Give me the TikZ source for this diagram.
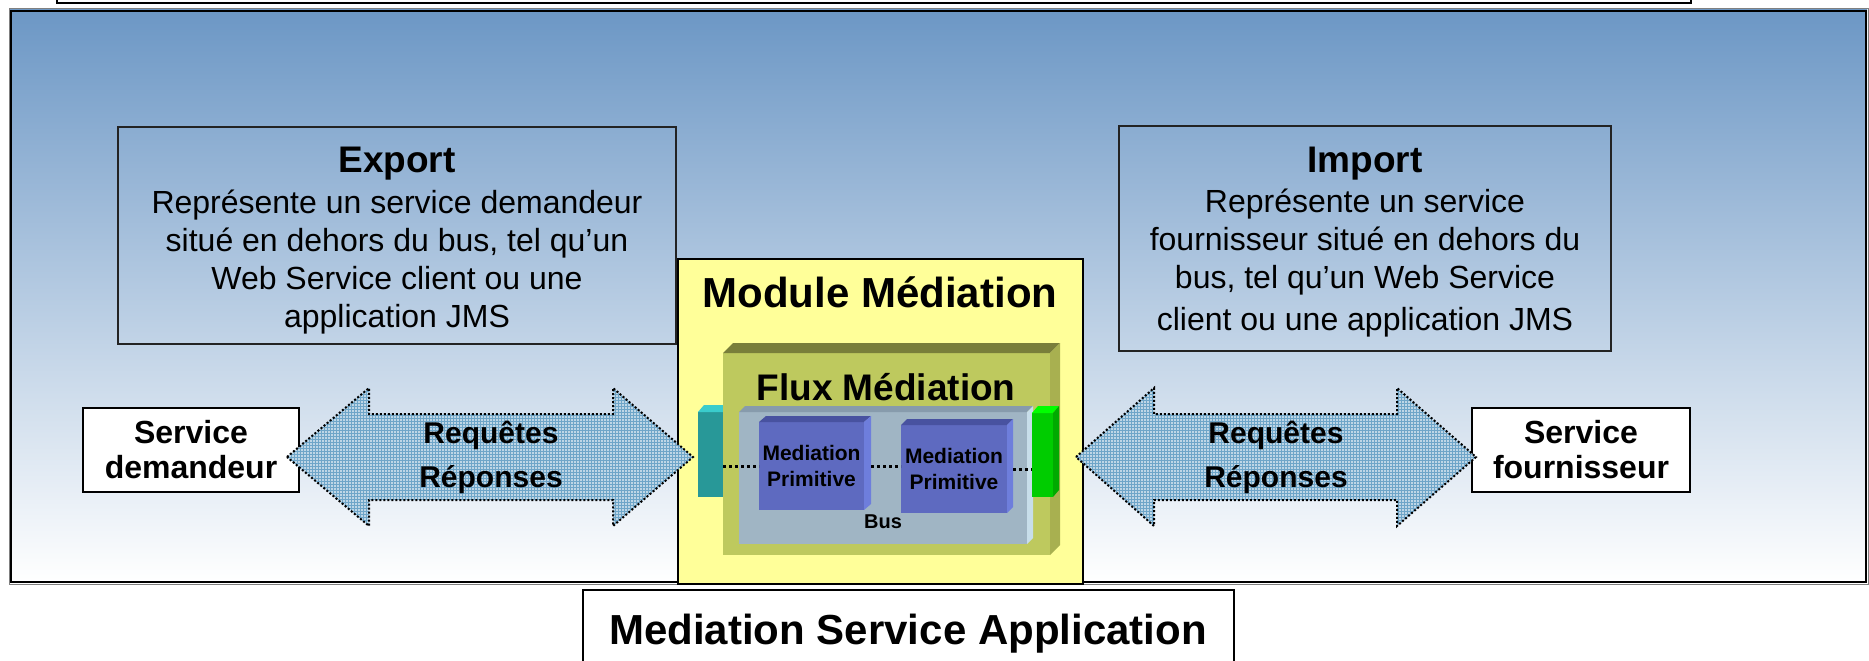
\documentclass[tikz,border=0pt]{standalone}
\usepackage{fontspec}
\setmainfont{Liberation Sans}
\usetikzlibrary{patterns}
\definecolor{panTop}{RGB}{108,151,197}
\definecolor{modYel}{RGB}{255,255,153}
\definecolor{fluxFront}{RGB}{190,201,94}
\definecolor{fluxTop}{RGB}{121,126,58}
\definecolor{fluxSide}{RGB}{168,176,80}
\definecolor{busFront}{RGB}{160,181,196}
\definecolor{busTop}{RGB}{135,155,172}
\definecolor{busSide}{RGB}{200,222,234}
\definecolor{mpFront}{RGB}{94,106,192}
\definecolor{mpTop}{RGB}{72,82,160}
\definecolor{mpSide}{RGB}{110,126,220}
\definecolor{tealFront}{RGB}{40,152,152}
\definecolor{tealTop}{RGB}{58,204,204}
\definecolor{grnFront}{RGB}{0,204,0}
\definecolor{grnTop}{RGB}{0,255,0}
\definecolor{grnSide}{RGB}{0,170,0}
\definecolor{arrFill}{RGB}{190,214,230}
\definecolor{arrGrid}{RGB}{110,165,200}
\definecolor{boxLine}{RGB}{35,35,35}
\begin{document}
\begin{tikzpicture}[x=1pt,y=-1pt,
  infobox/.style={draw=boxLine, line width=2pt},
  infotitle/.style={anchor=base, font=\fontsize{37}{40}\selectfont\bfseries},
  infotext/.style={anchor=base, font=\fontsize{32}{36}\selectfont},
  svcbox/.style={draw=black, fill=white, line width=2.5pt, minimum width=216pt, minimum height=84pt, inner sep=0pt, align=center, font=\fontsize{32}{35}\selectfont\bfseries},
  bigarrow/.style={preaction={fill=arrFill}, preaction={pattern=grid, pattern color=arrGrid}, draw=black, line width=2pt, dash pattern=on 2pt off 2pt},
  arrowtext/.style={anchor=base, font=\fontsize{30}{34}\selectfont\bfseries},
  face/.style={inner sep=0pt, outer sep=0pt},
  dotline/.style={draw=black, line width=3pt, dash pattern=on 3pt off 3pt},
  bigtitle/.style={anchor=base, font=\fontsize{42}{46}\selectfont\bfseries},
  mptext/.style={align=center, font=\fontsize{21}{26}\selectfont\bfseries}
]
\useasboundingbox (0,0) rectangle (1869,661);
\clip (0,0) rectangle (1869,661);

% top box (cut off)
\draw[fill=white, line width=2pt] (57,-10) rectangle (1691,3);

% main panel
\shade[top color=panTop, bottom color=white] (10,10) rectangle (1867,583);
\draw[gray, line width=1pt] (9,9) rectangle (1868,584);
\draw[black, line width=2.5pt] (11,11) rectangle (1866,582);

% Export / Import boxes
\node[infobox, minimum width=558pt, minimum height=217pt, inner sep=0pt] (export) at (397,235.5) {};
\node[infotitle] (e0) at (397,172) {Export};
\node[infotext] (e1) at (397,213) {Représente un service demandeur};
\node[infotext] (e2) at (397,251) {situé en dehors du bus, tel qu’un};
\node[infotext] (e3) at (397,289) {Web Service client ou une};
\node[infotext] (e4) at (397,327) {application JMS};

\node[infobox, minimum width=492pt, minimum height=225pt, inner sep=0pt] (import) at (1365,238.5) {};
\node[infotitle] (i0) at (1365,172) {Import};
\node[infotext] (i1) at (1365,212) {Représente un service};
\node[infotext] (i2) at (1365,250) {fournisseur situé en dehors du};
\node[infotext] (i3) at (1365,288) {bus, tel qu’un Web Service};
\node[infotext] (i4) at (1365,330) {client ou une application JMS};

% Module Mediation
\node[draw=black, fill=modYel, line width=2pt, minimum width=405pt, minimum height=325pt, inner sep=0pt] (module) at (880.5,421.5) {};
\node[bigtitle] (modt) at (880,307) {Module Médiation};

% teal block (behind flux)
\node[face, fill=tealFront, minimum width=25pt, minimum height=85pt] (teal) at (710.5,454.5) {};
\fill[tealTop] (teal.north west) -- ++(6,-7) -- ++(25,0) -- (teal.north east) -- cycle;

% Flux box
\node[face, fill=fluxFront, minimum width=327pt, minimum height=202pt] (flux) at (886.5,454) {};
\fill[fluxTop] (flux.north west) -- ++(10,-10) -- ++(327,0) -- (flux.north east) -- cycle;
\fill[fluxSide] (flux.north east) -- ++(10,-10) -- ++(0,202) -- (flux.south east) -- cycle;
\node[anchor=base, font=\fontsize{37}{40}\selectfont\bfseries] (fluxt) at (886,400) {Flux Médiation};

% Bus
\node[face, fill=busFront, minimum width=288pt, minimum height=132pt] (bus) at (883,478) {};
\fill[busTop] (bus.north west) -- ++(6,-6) -- ++(288,0) -- (bus.north east) -- cycle;
\fill[busSide] (bus.north east) -- ++(6,-6) -- ++(0,132) -- (bus.south east) -- cycle;
\node[anchor=base, font=\fontsize{20}{24}\selectfont\bfseries] (bust) at (883,528) {Bus};

% Mediation primitives
\node[face, fill=mpFront, minimum width=105pt, minimum height=88pt, mptext] (mp1) at (811.5,466) {Mediation\\Primitive};
\fill[mpTop] (mp1.north west) -- ++(7,-6) -- ++(105,0) -- (mp1.north east) -- cycle;
\fill[mpSide] (mp1.north east) -- ++(7,-6) -- ++(0,88) -- (mp1.south east) -- cycle;

\node[face, fill=mpFront, minimum width=106pt, minimum height=88pt, mptext] (mp2) at (954,469) {Mediation\\Primitive};
\fill[mpTop] (mp2.north west) -- ++(6,-6) -- ++(106,0) -- (mp2.north east) -- cycle;
\fill[mpSide] (mp2.north east) -- ++(6,-6) -- ++(0,88) -- (mp2.south east) -- cycle;

% green block
\node[face, fill=grnFront, minimum width=21pt, minimum height=84pt] (grn) at (1042.5,455) {};
\fill[grnTop] (grn.north west) -- ++(6,-7) -- ++(21,0) -- (grn.north east) -- cycle;
\fill[grnSide] (grn.north east) -- ++(6,-7) -- ++(0,84) -- (grn.south east) -- cycle;

% dotted links
\draw[dotline] (teal.east |- mp1.west) -- (mp1.west);
\draw[dotline] ([xshift=7pt]mp1.east) -- (mp1.east -| mp2.west);
\draw[dotline] ([xshift=6pt]mp2.east) -- (mp2.east -| grn.west);

% service boxes
\node[svcbox] (dem) at (191,450) {Service\\demandeur};
\node[svcbox, minimum width=218pt] (four) at (1581,450) {Service\\fournisseur};

% big arrows
\path[bigarrow] (287,457) -- (369,388) -- (369,414) -- (613,414) -- (613,388) -- (693,457) -- (613,526) -- (613,500) -- (369,500) -- (369,526) -- cycle;
\node[arrowtext] (r1) at (491,443) {Requêtes};
\node[arrowtext] (r2) at (491,487) {Réponses};

\path[bigarrow] (1076,457) -- (1154,388) -- (1154,414) -- (1397,414) -- (1397,388) -- (1476,457) -- (1397,526) -- (1397,500) -- (1154,500) -- (1154,526) -- cycle;
\node[arrowtext] (r3) at (1276,443) {Requêtes};
\node[arrowtext] (r4) at (1276,487) {Réponses};

% Mediation Service Application
\node[draw=black, fill=white, line width=2.5pt, minimum width=651pt, minimum height=100pt, inner sep=0pt] (msa) at (908.5,640) {};
\node[bigtitle] (msat) at (908,644) {Mediation Service Application};
\end{tikzpicture}
\end{document}
